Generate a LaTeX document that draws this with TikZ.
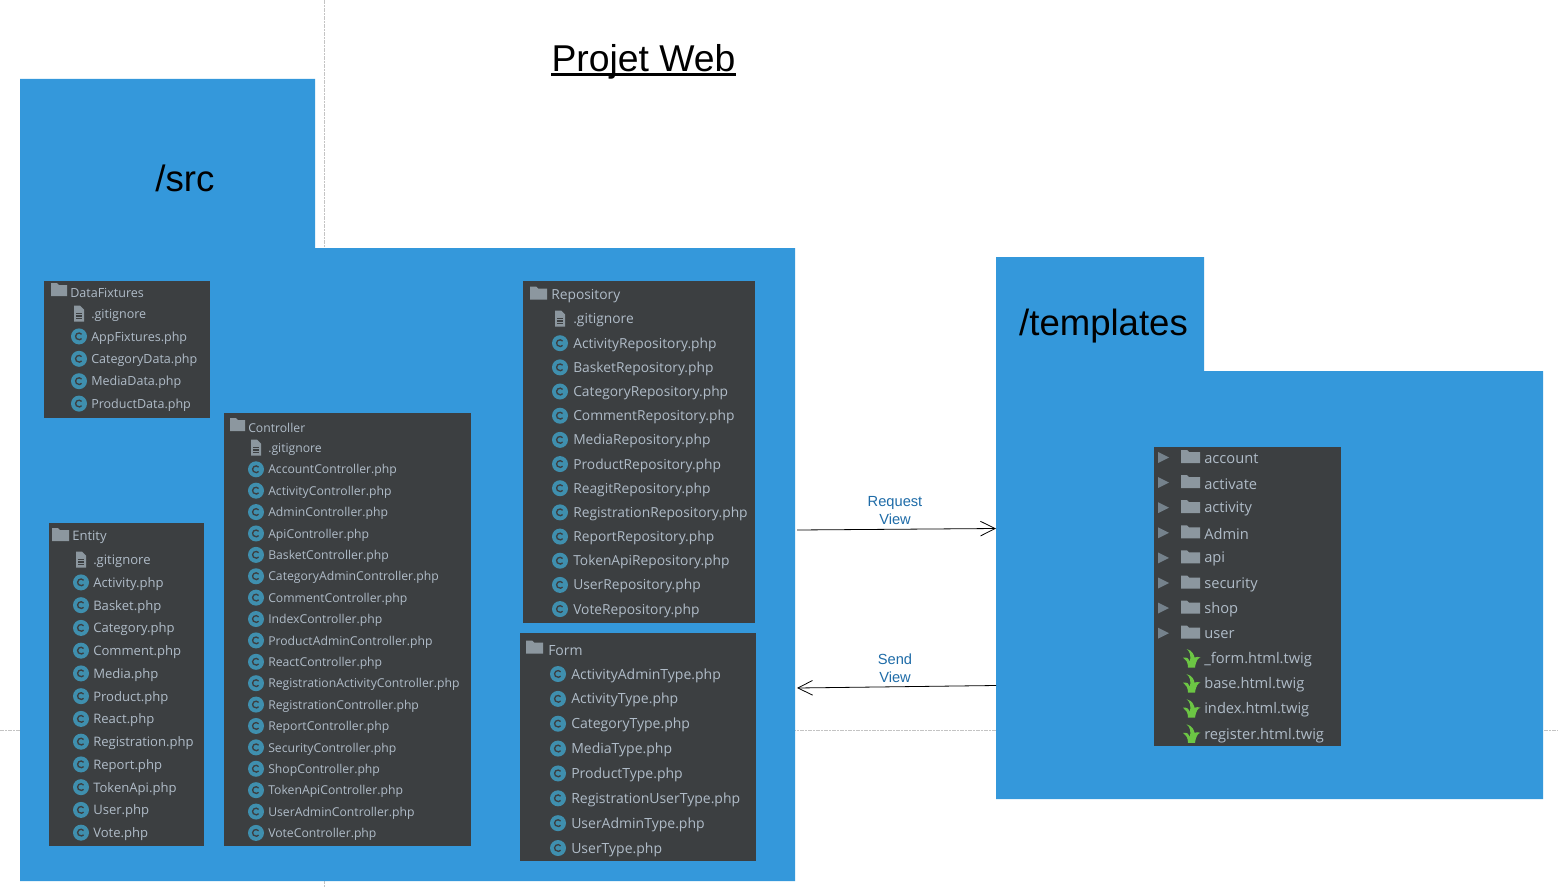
\documentclass[tikz,border=0pt]{standalone}
\usepackage{fontspec}
\setmainfont{Liberation Sans}
\newfontfamily\idefont{Open Sans}
\usetikzlibrary{arrows.meta,calc}
\definecolor{folderblue}{HTML}{3498DB}
\definecolor{panel}{HTML}{3C3F41}
\definecolor{idetext}{HTML}{B0BCC8}
\definecolor{iconc}{HTML}{3F8FAE}
\definecolor{icongray}{HTML}{8C979F}
\definecolor{twig}{HTML}{6CC644}
\definecolor{linklabel}{HTML}{1F6CA8}
\definecolor{guide}{HTML}{C4C4C4}
\tikzset{
  x=0.75pt,y=-0.75pt,
  blueshape/.style={fill=folderblue,draw=none},
  idelabel/.style={anchor=west,inner sep=0pt,yshift=-1.1pt,text=idetext,font=\idefont\fontsize{#1}{#1}\selectfont},
  bigtitle/.style={inner sep=0pt,text=black,font=\fontsize{#1}{#1}\selectfont},
  linktext/.style={inner sep=0pt,text=linklabel,align=center,font=\fontsize{11}{13.5}\selectfont},
  guideline/.style={draw=guide,line width=0.5pt,dash pattern=on 3pt off 1pt on 1pt off 1pt},
  conn/.style={draw=black,line width=0.6pt,-{Straight Barb[length=11pt,width=11pt,line width=0.6pt]}},
}
% icons
\newcommand{\ciconat}[2]{%
  \fill[iconc] (#1,#2) circle[radius=8];
  \draw[panel,line width=1pt] ($(#1,#2)+(2.6,-2.2)$) arc[start angle=-40,end angle=-320,radius=3.4];
}
\newcommand{\docat}[2]{%
  \fill[icongray] ($(#1,#2)+(-5,-8)$) -- ++(6,0) -- ++(4,4) -- ++(0,12) -- ++(-10,0) -- cycle;
  \draw[panel,line width=0.8pt] ($(#1,#2)+(-3,0)$) -- ++(6,0) ($(#1,#2)+(-3,2.5)$) -- ++(6,0) ($(#1,#2)+(-3,5)$) -- ++(6,0);
}
\newcommand{\folderat}[3]{% x left, y centre, width
  \fill[icongray] ($(#1,#2)+(0,-6.5)$) -- ++(6,0) -- ++(2,2) -- ($(#1+#3,#2-4.5)$) -- ($(#1+#3,#2+6.5)$) -- ($(#1,#2+6.5)$) -- cycle;
}
\newcommand{\twigat}[2]{%
  \begin{scope}[shift={(#1,#2)}]
  \fill[twig] (-4.5,-9.5) .. controls (2,-8) and (3,-3) .. (3.5,-1)
     .. controls (5,-1.5) and (8,-2) .. (9.5,-1)
     .. controls (7,-0.5) and (5,2) .. (4,9)
     -- (-3,9) .. controls (-3,4) and (-5,1) .. (-8,-1)
     .. controls (-4,-1.5) and (-2,0) .. (-1,3)
     .. controls (0,-3) and (-1,-7) .. cycle;
  \end{scope}
}
% panel rows: name, icon x, text x, y start, step, font size, list
\newcommand{\rows}[7]{%
  \foreach \t [count=\i from 0] in {#7} {
    \pgfmathsetmacro\yy{#4+\i*#5}
    \ciconat{#2}{\yy}
    \node[idelabel=#6] (#1-\i) at (#3,\yy) {\t};
  }
}
\begin{document}
\begin{tikzpicture}
\useasboundingbox (0,0) rectangle (1558,888);
\fill[white] (0,0) rectangle (1558,888);
% guides
\draw[guideline] (324,0) -- (324,888);
\draw[guideline] (0,730) -- (1558,730);
% folders
\path[blueshape] (20,79) -- (315,79) -- (315,248) -- (795,248) -- (795,881) -- (20,881) -- cycle;
\path[blueshape] (996,257) -- (1204,257) -- (1204,371) -- (1543,371) -- (1543,799) -- (996,799) -- cycle;
\coordinate (srcin) at (797,530);
\coordinate (tplin) at (996,528.5);
\coordinate (tplout) at (996,685.5);
\coordinate (srcout) at (797,688);
% titles
\node[bigtitle=28,anchor=base] (projet) at (643.5,72) {Projet Web};
\draw[black,line width=1.8pt] ($(projet.base west)+(0,2.5)$) -- ($(projet.base east)+(0,2.5)$);
\node[bigtitle=27.5] (src) at (185,178) {/src};
\node[bigtitle=27.4] (templates) at (1103.5,326) {/templates};
% DataFixtures
\fill[panel] (44,281) rectangle (210,418);
\folderat{51}{289.5}{16}
\node[idelabel=9.4] (dfh) at (70,291) {DataFixtures};
\docat{79}{313.5}
\node[idelabel=9.4] (dfg) at (91,314) {.gitignore};
\rows{df}{79}{91}{336.4}{22.4}{9.4}{AppFixtures.php,CategoryData.php,MediaData.php,ProductData.php}
% Entity
\fill[panel] (49,523) rectangle (204,846);
\folderat{52}{534.5}{17}
\node[idelabel=9.8] (enh) at (72,536) {Entity};
\docat{81}{559.5}
\node[idelabel=9.8] (eng) at (93,560) {.gitignore};
\rows{en}{81}{93}{582.4}{22.75}{9.8}{Activity.php,Basket.php,Category.php,Comment.php,Media.php,Product.php,React.php,Registration.php,Report.php,TokenApi.php,User.php,Vote.php}
% Controller
\fill[panel] (224,413) rectangle (471,846);
\folderat{230}{424.5}{15}
\node[idelabel=9.15] (coh) at (248,426) {Controller};
\docat{256}{447.5}
\node[idelabel=9.15] (cog) at (268,448) {.gitignore};
\rows{co}{256}{268}{469.3}{21.39}{9.15}{AccountController.php,ActivityController.php,AdminController.php,ApiController.php,BasketController.php,CategoryAdminController.php,CommentController.php,IndexController.php,ProductAdminController.php,ReactController.php,RegistrationActivityController.php,RegistrationController.php,ReportController.php,SecurityController.php,ShopController.php,TokenApiController.php,UserAdminController.php,VoteController.php}
% Repository
\fill[panel] (523,281) rectangle (755,623);
\folderat{530}{293}{17}
\node[idelabel=10.35] (reh) at (551,295) {Repository};
\docat{560}{318.5}
\node[idelabel=10.35] (reg) at (573,319) {.gitignore};
\rows{re}{560}{573}{343.2}{24.17}{10.35}{ActivityRepository.php,BasketRepository.php,CategoryRepository.php,CommentRepository.php,MediaRepository.php,ProductRepository.php,ReagitRepository.php,RegistrationRepository.php,ReportRepository.php,TokenApiRepository.php,UserRepository.php,VoteRepository.php}
% Form
\fill[panel] (520,633) rectangle (756,861);
\folderat{526}{647}{17}
\node[idelabel=10.5] (foh) at (548,649) {Form};
\rows{fo}{558}{571}{674}{24.86}{10.5}{ActivityAdminType.php,ActivityType.php,CategoryType.php,MediaType.php,ProductType.php,RegistrationUserType.php,UserAdminType.php,UserType.php}
% Templates
\fill[panel] (1154,447) rectangle (1341,746);
\foreach \t [count=\i from 0] in {account,activate,activity,Admin,api,security,shop,user} {
  \pgfmathsetmacro\yy{457.5+\i*25.1}
  \fill[icongray!120] ($(1158,\yy)+(0,-5.5)$) -- ++(11,5.5) -- ++(-11,5.5) -- cycle;
  \folderat{1181}{\yy-1}{19}
  \node[idelabel=11] (td-\i) at (1204,\yy) {\t};
}
\foreach \t [count=\i from 0] in {\_form.html.twig,base.html.twig,index.html.twig,register.html.twig} {
  \pgfmathsetmacro\yy{658.5+\i*25.1}
  \twigat{1191}{\yy}
  \node[idelabel=11] (tf-\i) at (1204,\yy) {\t};
}
% connectors
\draw[conn] (srcin) -- (tplin);
\draw[conn] (tplout) -- (srcout);
\node[linktext] (reqlabel) at (895,510.5) {Request\\View};
\node[linktext] (sendlabel) at (895,668.5) {Send\\View};
\end{tikzpicture}
\end{document}
